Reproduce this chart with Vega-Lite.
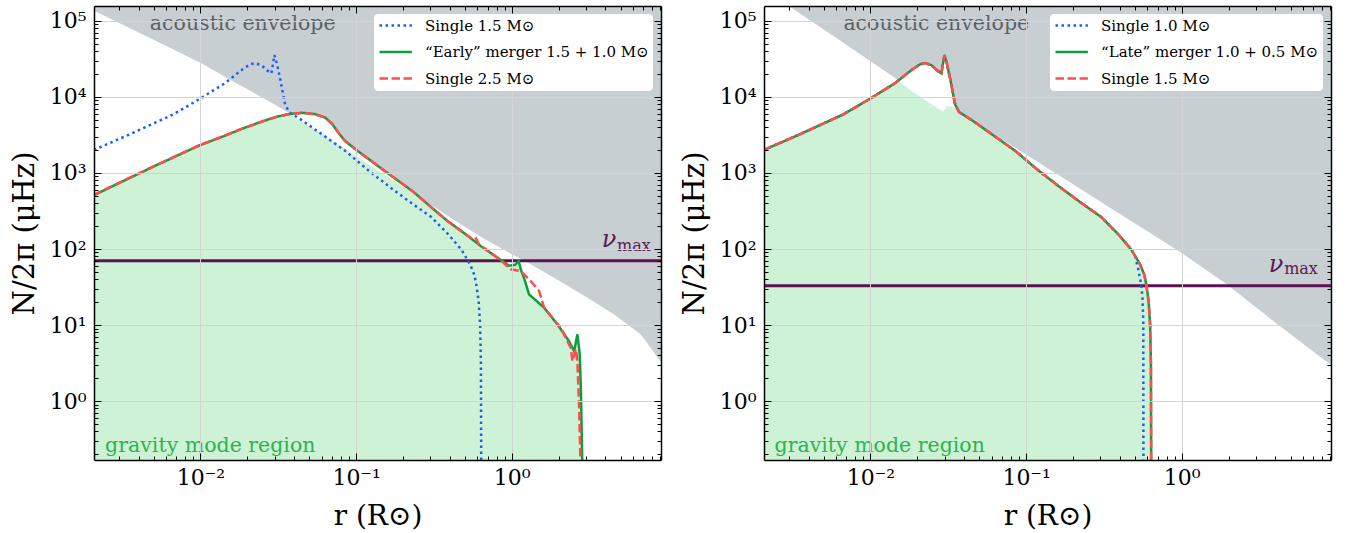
{
  "$schema": "https://vega.github.io/schema/vega-lite/v6.json",
  "background": "white",
  "padding": {"left": 10, "top": 5, "right": 5, "bottom": 5},
  "spacing": 103,
  "bounds": "flush",
  "config": {"view": {"stroke": null}, "font": "DejaVu Serif"},
  "datasets": {
    "left_lines": [
      {"series": "Single 1.5 M⊙", "r": 0.002065, "N": 2009},
      {"series": "Single 1.5 M⊙", "r": 0.003548, "N": 3250},
      {"series": "Single 1.5 M⊙", "r": 0.006699, "N": 5900},
      {"series": "Single 1.5 M⊙", "r": 0.01, "N": 9550},
      {"series": "Single 1.5 M⊙", "r": 0.01436, "N": 15140},
      {"series": "Single 1.5 M⊙", "r": 0.01854, "N": 22910},
      {"series": "Single 1.5 M⊙", "r": 0.02089, "N": 26920},
      {"series": "Single 1.5 M⊙", "r": 0.02244, "N": 27860},
      {"series": "Single 1.5 M⊙", "r": 0.02455, "N": 26300},
      {"series": "Single 1.5 M⊙", "r": 0.02754, "N": 21380},
      {"series": "Single 1.5 M⊙", "r": 0.02858, "N": 20420},
      {"series": "Single 1.5 M⊙", "r": 0.02985, "N": 35480},
      {"series": "Single 1.5 M⊙", "r": 0.0309, "N": 28180},
      {"series": "Single 1.5 M⊙", "r": 0.03243, "N": 17780},
      {"series": "Single 1.5 M⊙", "r": 0.035, "N": 7943},
      {"series": "Single 1.5 M⊙", "r": 0.03715, "N": 6310},
      {"series": "Single 1.5 M⊙", "r": 0.04519, "N": 4898},
      {"series": "Single 1.5 M⊙", "r": 0.06209, "N": 3090},
      {"series": "Single 1.5 M⊙", "r": 0.08531, "N": 1950},
      {"series": "Single 1.5 M⊙", "r": 0.1172, "N": 1122},
      {"series": "Single 1.5 M⊙", "r": 0.161, "N": 676},
      {"series": "Single 1.5 M⊙", "r": 0.2213, "N": 417},
      {"series": "Single 1.5 M⊙", "r": 0.3041, "N": 263},
      {"series": "Single 1.5 M⊙", "r": 0.3926, "N": 155},
      {"series": "Single 1.5 M⊙", "r": 0.4753, "N": 97.7},
      {"series": "Single 1.5 M⊙", "r": 0.5012, "N": 81.3},
      {"series": "Single 1.5 M⊙", "r": 0.5395, "N": 63.1},
      {"series": "Single 1.5 M⊙", "r": 0.5754, "N": 45.7},
      {"series": "Single 1.5 M⊙", "r": 0.5929, "N": 33.1},
      {"series": "Single 1.5 M⊙", "r": 0.6124, "N": 20.9},
      {"series": "Single 1.5 M⊙", "r": 0.6266, "N": 10},
      {"series": "Single 1.5 M⊙", "r": 0.6339, "N": 3.16},
      {"series": "Single 1.5 M⊙", "r": 0.6368, "N": 0.1},
      {"series": "“Early” merger 1.5 + 1.0 M⊙", "r": 0.00205, "N": 505},
      {"series": "“Early” merger 1.5 + 1.0 M⊙", "r": 0.00316, "N": 776},
      {"series": "“Early” merger 1.5 + 1.0 M⊙", "r": 0.00489, "N": 1190},
      {"series": "“Early” merger 1.5 + 1.0 M⊙", "r": 0.00708, "N": 1690},
      {"series": "“Early” merger 1.5 + 1.0 M⊙", "r": 0.00982, "N": 2300},
      {"series": "“Early” merger 1.5 + 1.0 M⊙", "r": 0.01413, "N": 3050},
      {"series": "“Early” merger 1.5 + 1.0 M⊙", "r": 0.01849, "N": 3811},
      {"series": "“Early” merger 1.5 + 1.0 M⊙", "r": 0.02512, "N": 4786},
      {"series": "“Early” merger 1.5 + 1.0 M⊙", "r": 0.03069, "N": 5470},
      {"series": "“Early” merger 1.5 + 1.0 M⊙", "r": 0.03715, "N": 5957},
      {"series": "“Early” merger 1.5 + 1.0 M⊙", "r": 0.04487, "N": 6180},
      {"series": "“Early” merger 1.5 + 1.0 M⊙", "r": 0.05433, "N": 5943},
      {"series": "“Early” merger 1.5 + 1.0 M⊙", "r": 0.0631, "N": 5370},
      {"series": "“Early” merger 1.5 + 1.0 M⊙", "r": 0.07, "N": 4446},
      {"series": "“Early” merger 1.5 + 1.0 M⊙", "r": 0.0776, "N": 3311},
      {"series": "“Early” merger 1.5 + 1.0 M⊙", "r": 0.08453, "N": 2655},
      {"series": "“Early” merger 1.5 + 1.0 M⊙", "r": 0.1023, "N": 1950},
      {"series": "“Early” merger 1.5 + 1.0 M⊙", "r": 0.1592, "N": 998},
      {"series": "“Early” merger 1.5 + 1.0 M⊙", "r": 0.2328, "N": 566},
      {"series": "“Early” merger 1.5 + 1.0 M⊙", "r": 0.3162, "N": 331},
      {"series": "“Early” merger 1.5 + 1.0 M⊙", "r": 0.3864, "N": 234},
      {"series": "“Early” merger 1.5 + 1.0 M⊙", "r": 0.501, "N": 158.5},
      {"series": "“Early” merger 1.5 + 1.0 M⊙", "r": 0.6324, "N": 109.4},
      {"series": "“Early” merger 1.5 + 1.0 M⊙", "r": 0.809, "N": 76.9},
      {"series": "“Early” merger 1.5 + 1.0 M⊙", "r": 0.9616, "N": 60.3},
      {"series": "“Early” merger 1.5 + 1.0 M⊙", "r": 1.047, "N": 61.7},
      {"series": "“Early” merger 1.5 + 1.0 M⊙", "r": 1.109, "N": 69.2},
      {"series": "“Early” merger 1.5 + 1.0 M⊙", "r": 1.148, "N": 52.5},
      {"series": "“Early” merger 1.5 + 1.0 M⊙", "r": 1.199, "N": 41.7},
      {"series": "“Early” merger 1.5 + 1.0 M⊙", "r": 1.291, "N": 25.4},
      {"series": "“Early” merger 1.5 + 1.0 M⊙", "r": 1.614, "N": 16.9},
      {"series": "“Early” merger 1.5 + 1.0 M⊙", "r": 1.968, "N": 10.2},
      {"series": "“Early” merger 1.5 + 1.0 M⊙", "r": 2.333, "N": 6.15},
      {"series": "“Early” merger 1.5 + 1.0 M⊙", "r": 2.518, "N": 4.55},
      {"series": "“Early” merger 1.5 + 1.0 M⊙", "r": 2.642, "N": 7.55},
      {"series": "“Early” merger 1.5 + 1.0 M⊙", "r": 2.735, "N": 4.11},
      {"series": "“Early” merger 1.5 + 1.0 M⊙", "r": 2.78, "N": 1.5},
      {"series": "“Early” merger 1.5 + 1.0 M⊙", "r": 2.851, "N": 0.1},
      {"series": "Single 2.5 M⊙", "r": 0.00205, "N": 515},
      {"series": "Single 2.5 M⊙", "r": 0.00316, "N": 780},
      {"series": "Single 2.5 M⊙", "r": 0.00489, "N": 1195},
      {"series": "Single 2.5 M⊙", "r": 0.00708, "N": 1700},
      {"series": "Single 2.5 M⊙", "r": 0.00982, "N": 2310},
      {"series": "Single 2.5 M⊙", "r": 0.01413, "N": 3060},
      {"series": "Single 2.5 M⊙", "r": 0.01849, "N": 3820},
      {"series": "Single 2.5 M⊙", "r": 0.02512, "N": 4790},
      {"series": "Single 2.5 M⊙", "r": 0.03069, "N": 5470},
      {"series": "Single 2.5 M⊙", "r": 0.03715, "N": 5957},
      {"series": "Single 2.5 M⊙", "r": 0.04487, "N": 6180},
      {"series": "Single 2.5 M⊙", "r": 0.05433, "N": 5943},
      {"series": "Single 2.5 M⊙", "r": 0.0631, "N": 5370},
      {"series": "Single 2.5 M⊙", "r": 0.07, "N": 4446},
      {"series": "Single 2.5 M⊙", "r": 0.0776, "N": 3311},
      {"series": "Single 2.5 M⊙", "r": 0.08453, "N": 2655},
      {"series": "Single 2.5 M⊙", "r": 0.1023, "N": 1950},
      {"series": "Single 2.5 M⊙", "r": 0.1592, "N": 998},
      {"series": "Single 2.5 M⊙", "r": 0.2328, "N": 566},
      {"series": "Single 2.5 M⊙", "r": 0.3162, "N": 331},
      {"series": "Single 2.5 M⊙", "r": 0.3864, "N": 234},
      {"series": "Single 2.5 M⊙", "r": 0.501, "N": 158.5},
      {"series": "Single 2.5 M⊙", "r": 0.5495, "N": 138},
      {"series": "Single 2.5 M⊙", "r": 0.5821, "N": 144.5},
      {"series": "Single 2.5 M⊙", "r": 0.6166, "N": 114.8},
      {"series": "Single 2.5 M⊙", "r": 0.809, "N": 77.6},
      {"series": "Single 2.5 M⊙", "r": 0.9863, "N": 54.1},
      {"series": "Single 2.5 M⊙", "r": 1.143, "N": 51.4},
      {"series": "Single 2.5 M⊙", "r": 1.324, "N": 37.9},
      {"series": "Single 2.5 M⊙", "r": 1.5, "N": 28.0},
      {"series": "Single 2.5 M⊙", "r": 1.614, "N": 16.9},
      {"series": "Single 2.5 M⊙", "r": 2.065, "N": 9.2},
      {"series": "Single 2.5 M⊙", "r": 2.393, "N": 5.02},
      {"series": "Single 2.5 M⊙", "r": 2.455, "N": 3.36},
      {"series": "Single 2.5 M⊙", "r": 2.582, "N": 4.79},
      {"series": "Single 2.5 M⊙", "r": 2.642, "N": 3.36},
      {"series": "Single 2.5 M⊙", "r": 2.71, "N": 0.817},
      {"series": "Single 2.5 M⊙", "r": 2.78, "N": 0.1}
    ],
    "left_gray": [
      {"r": 0.00205, "N": 137000}, {"r": 0.00398, "N": 70800}, {"r": 0.00631, "N": 44700},
      {"r": 0.01, "N": 28250}, {"r": 0.0152, "N": 17180}, {"r": 0.02512, "N": 9772},
      {"r": 0.03698, "N": 6209}, {"r": 0.04487, "N": 6180}, {"r": 0.05433, "N": 5943},
      {"r": 0.0631, "N": 5370}, {"r": 0.07, "N": 4446}, {"r": 0.0776, "N": 3311},
      {"r": 0.08453, "N": 2655}, {"r": 0.1023, "N": 1950}, {"r": 0.1592, "N": 998},
      {"r": 0.2328, "N": 566}, {"r": 0.2512, "N": 490}, {"r": 0.398, "N": 263},
      {"r": 0.631, "N": 144.5}, {"r": 1.0, "N": 85.1}, {"r": 1.2, "N": 70.8},
      {"r": 1.871, "N": 41.9}, {"r": 3.069, "N": 22.9}, {"r": 4.55, "N": 13.8},
      {"r": 6.76, "N": 7.53}, {"r": 9.18, "N": 3.16}
    ],
    "left_fill": [
      {"r": 0.00205, "N": 505}, {"r": 0.00316, "N": 776}, {"r": 0.00489, "N": 1190},
      {"r": 0.00708, "N": 1690}, {"r": 0.00982, "N": 2300}, {"r": 0.01413, "N": 3050},
      {"r": 0.01849, "N": 3811}, {"r": 0.02512, "N": 4786}, {"r": 0.03069, "N": 5470},
      {"r": 0.03715, "N": 5957}, {"r": 0.0631, "N": 3090}, {"r": 0.1, "N": 1660},
      {"r": 0.1585, "N": 902}, {"r": 0.2328, "N": 543}, {"r": 0.2512, "N": 495},
      {"r": 0.3162, "N": 331}, {"r": 0.3864, "N": 234}, {"r": 0.501, "N": 158.5},
      {"r": 0.6324, "N": 109.4}, {"r": 0.809, "N": 76.9}, {"r": 0.9616, "N": 60.3},
      {"r": 1.047, "N": 61.7}, {"r": 1.109, "N": 69.2}, {"r": 1.148, "N": 52.5},
      {"r": 1.199, "N": 41.7}, {"r": 1.291, "N": 25.4}, {"r": 1.614, "N": 16.9},
      {"r": 1.968, "N": 10.2}, {"r": 2.333, "N": 6.15}, {"r": 2.518, "N": 4.55},
      {"r": 2.642, "N": 7.55}, {"r": 2.735, "N": 4.11}, {"r": 2.78, "N": 1.5},
      {"r": 2.851, "N": 0.1}
    ],
    "right_lines": [
      {"series": "Single 1.0 M⊙", "r": 0.002065, "N": 2009},
      {"series": "Single 1.0 M⊙", "r": 0.003548, "N": 3250},
      {"series": "Single 1.0 M⊙", "r": 0.006699, "N": 5900},
      {"series": "Single 1.0 M⊙", "r": 0.01, "N": 9550},
      {"series": "Single 1.0 M⊙", "r": 0.01436, "N": 15140},
      {"series": "Single 1.0 M⊙", "r": 0.01854, "N": 22910},
      {"series": "Single 1.0 M⊙", "r": 0.02089, "N": 26920},
      {"series": "Single 1.0 M⊙", "r": 0.02244, "N": 27860},
      {"series": "Single 1.0 M⊙", "r": 0.02455, "N": 26300},
      {"series": "Single 1.0 M⊙", "r": 0.02754, "N": 21380},
      {"series": "Single 1.0 M⊙", "r": 0.02858, "N": 20420},
      {"series": "Single 1.0 M⊙", "r": 0.02985, "N": 35480},
      {"series": "Single 1.0 M⊙", "r": 0.0309, "N": 28180},
      {"series": "Single 1.0 M⊙", "r": 0.03243, "N": 17780},
      {"series": "Single 1.0 M⊙", "r": 0.035, "N": 7943},
      {"series": "Single 1.0 M⊙", "r": 0.03715, "N": 6310},
      {"series": "Single 1.0 M⊙", "r": 0.04519, "N": 4898},
      {"series": "Single 1.0 M⊙", "r": 0.06209, "N": 3090},
      {"series": "Single 1.0 M⊙", "r": 0.08531, "N": 1950},
      {"series": "Single 1.0 M⊙", "r": 0.1172, "N": 1122},
      {"series": "Single 1.0 M⊙", "r": 0.161, "N": 676},
      {"series": "Single 1.0 M⊙", "r": 0.2213, "N": 417},
      {"series": "Single 1.0 M⊙", "r": 0.3041, "N": 263},
      {"series": "Single 1.0 M⊙", "r": 0.3926, "N": 155},
      {"series": "Single 1.0 M⊙", "r": 0.4753, "N": 97.7},
      {"series": "Single 1.0 M⊙", "r": 0.5012, "N": 81.3},
      {"series": "Single 1.0 M⊙", "r": 0.5248, "N": 55.0},
      {"series": "Single 1.0 M⊙", "r": 0.547, "N": 35.5},
      {"series": "Single 1.0 M⊙", "r": 0.5598, "N": 22.4},
      {"series": "Single 1.0 M⊙", "r": 0.5662, "N": 11.2},
      {"series": "Single 1.0 M⊙", "r": 0.5675, "N": 0.1},
      {"series": "“Late” merger 1.0 + 0.5 M⊙", "r": 0.002065, "N": 2009},
      {"series": "“Late” merger 1.0 + 0.5 M⊙", "r": 0.003548, "N": 3250},
      {"series": "“Late” merger 1.0 + 0.5 M⊙", "r": 0.006699, "N": 5900},
      {"series": "“Late” merger 1.0 + 0.5 M⊙", "r": 0.01, "N": 9550},
      {"series": "“Late” merger 1.0 + 0.5 M⊙", "r": 0.01436, "N": 15140},
      {"series": "“Late” merger 1.0 + 0.5 M⊙", "r": 0.01854, "N": 22910},
      {"series": "“Late” merger 1.0 + 0.5 M⊙", "r": 0.02089, "N": 26920},
      {"series": "“Late” merger 1.0 + 0.5 M⊙", "r": 0.02244, "N": 27860},
      {"series": "“Late” merger 1.0 + 0.5 M⊙", "r": 0.02455, "N": 26300},
      {"series": "“Late” merger 1.0 + 0.5 M⊙", "r": 0.02754, "N": 21380},
      {"series": "“Late” merger 1.0 + 0.5 M⊙", "r": 0.02858, "N": 20420},
      {"series": "“Late” merger 1.0 + 0.5 M⊙", "r": 0.02985, "N": 35480},
      {"series": "“Late” merger 1.0 + 0.5 M⊙", "r": 0.0309, "N": 28180},
      {"series": "“Late” merger 1.0 + 0.5 M⊙", "r": 0.03243, "N": 17780},
      {"series": "“Late” merger 1.0 + 0.5 M⊙", "r": 0.035, "N": 7943},
      {"series": "“Late” merger 1.0 + 0.5 M⊙", "r": 0.03715, "N": 6310},
      {"series": "“Late” merger 1.0 + 0.5 M⊙", "r": 0.04519, "N": 4898},
      {"series": "“Late” merger 1.0 + 0.5 M⊙", "r": 0.06209, "N": 3090},
      {"series": "“Late” merger 1.0 + 0.5 M⊙", "r": 0.08531, "N": 1950},
      {"series": "“Late” merger 1.0 + 0.5 M⊙", "r": 0.1172, "N": 1122},
      {"series": "“Late” merger 1.0 + 0.5 M⊙", "r": 0.161, "N": 676},
      {"series": "“Late” merger 1.0 + 0.5 M⊙", "r": 0.2213, "N": 417},
      {"series": "“Late” merger 1.0 + 0.5 M⊙", "r": 0.3041, "N": 263},
      {"series": "“Late” merger 1.0 + 0.5 M⊙", "r": 0.3926, "N": 155},
      {"series": "“Late” merger 1.0 + 0.5 M⊙", "r": 0.4753, "N": 97.7},
      {"series": "“Late” merger 1.0 + 0.5 M⊙", "r": 0.5012, "N": 81.3},
      {"series": "“Late” merger 1.0 + 0.5 M⊙", "r": 0.5395, "N": 63.1},
      {"series": "“Late” merger 1.0 + 0.5 M⊙", "r": 0.5754, "N": 45.7},
      {"series": "“Late” merger 1.0 + 0.5 M⊙", "r": 0.5929, "N": 33.1},
      {"series": "“Late” merger 1.0 + 0.5 M⊙", "r": 0.6124, "N": 20.9},
      {"series": "“Late” merger 1.0 + 0.5 M⊙", "r": 0.6266, "N": 10},
      {"series": "“Late” merger 1.0 + 0.5 M⊙", "r": 0.6339, "N": 3.16},
      {"series": "“Late” merger 1.0 + 0.5 M⊙", "r": 0.6368, "N": 0.1},
      {"series": "Single 1.5 M⊙", "r": 0.002065, "N": 2009},
      {"series": "Single 1.5 M⊙", "r": 0.003548, "N": 3250},
      {"series": "Single 1.5 M⊙", "r": 0.006699, "N": 5900},
      {"series": "Single 1.5 M⊙", "r": 0.01, "N": 9550},
      {"series": "Single 1.5 M⊙", "r": 0.01436, "N": 15140},
      {"series": "Single 1.5 M⊙", "r": 0.01854, "N": 22910},
      {"series": "Single 1.5 M⊙", "r": 0.02089, "N": 26920},
      {"series": "Single 1.5 M⊙", "r": 0.02244, "N": 27860},
      {"series": "Single 1.5 M⊙", "r": 0.02455, "N": 26300},
      {"series": "Single 1.5 M⊙", "r": 0.02754, "N": 21380},
      {"series": "Single 1.5 M⊙", "r": 0.02858, "N": 20420},
      {"series": "Single 1.5 M⊙", "r": 0.02985, "N": 35480},
      {"series": "Single 1.5 M⊙", "r": 0.0309, "N": 28180},
      {"series": "Single 1.5 M⊙", "r": 0.03243, "N": 17780},
      {"series": "Single 1.5 M⊙", "r": 0.035, "N": 7943},
      {"series": "Single 1.5 M⊙", "r": 0.03715, "N": 6310},
      {"series": "Single 1.5 M⊙", "r": 0.04519, "N": 4898},
      {"series": "Single 1.5 M⊙", "r": 0.06209, "N": 3090},
      {"series": "Single 1.5 M⊙", "r": 0.08531, "N": 1950},
      {"series": "Single 1.5 M⊙", "r": 0.1172, "N": 1122},
      {"series": "Single 1.5 M⊙", "r": 0.161, "N": 676},
      {"series": "Single 1.5 M⊙", "r": 0.2213, "N": 417},
      {"series": "Single 1.5 M⊙", "r": 0.3041, "N": 263},
      {"series": "Single 1.5 M⊙", "r": 0.3926, "N": 155},
      {"series": "Single 1.5 M⊙", "r": 0.4753, "N": 97.7},
      {"series": "Single 1.5 M⊙", "r": 0.5012, "N": 81.3},
      {"series": "Single 1.5 M⊙", "r": 0.5395, "N": 63.1},
      {"series": "Single 1.5 M⊙", "r": 0.5754, "N": 45.7},
      {"series": "Single 1.5 M⊙", "r": 0.5929, "N": 33.1},
      {"series": "Single 1.5 M⊙", "r": 0.6124, "N": 20.9},
      {"series": "Single 1.5 M⊙", "r": 0.6266, "N": 10},
      {"series": "Single 1.5 M⊙", "r": 0.6339, "N": 3.16},
      {"series": "Single 1.5 M⊙", "r": 0.6368, "N": 0.1}
    ],
    "right_gray": [
      {"r": 0.00205, "N": 280000}, {"r": 0.003119, "N": 147900}, {"r": 0.00631, "N": 56230},
      {"r": 0.01, "N": 29510}, {"r": 0.01514, "N": 16600}, {"r": 0.01854, "N": 22910},
      {"r": 0.02089, "N": 26920}, {"r": 0.02244, "N": 27860}, {"r": 0.02455, "N": 26300},
      {"r": 0.02754, "N": 21380}, {"r": 0.02858, "N": 20420}, {"r": 0.02985, "N": 35480},
      {"r": 0.0309, "N": 28180}, {"r": 0.03243, "N": 17780}, {"r": 0.035, "N": 7943},
      {"r": 0.03715, "N": 6310}, {"r": 0.0631, "N": 3162}, {"r": 0.1, "N": 1750},
      {"r": 0.1585, "N": 964}, {"r": 0.2512, "N": 531}, {"r": 0.3981, "N": 292},
      {"r": 0.631, "N": 161}, {"r": 1.0, "N": 88.5}, {"r": 1.928, "N": 35.0},
      {"r": 3.873, "N": 11.3}, {"r": 6.31, "N": 5.25}, {"r": 9.18, "N": 2.95}
    ],
    "right_fill": [
      {"r": 0.00205, "N": 2000}, {"r": 0.003548, "N": 3250}, {"r": 0.006699, "N": 5900},
      {"r": 0.01, "N": 9550}, {"r": 0.01436, "N": 15140}, {"r": 0.01514, "N": 16300},
      {"r": 0.01854, "N": 11750}, {"r": 0.02244, "N": 9120}, {"r": 0.02716, "N": 7079},
      {"r": 0.02931, "N": 6383}, {"r": 0.03083, "N": 7603}, {"r": 0.03388, "N": 7447},
      {"r": 0.03715, "N": 6166}, {"r": 0.04519, "N": 4898}, {"r": 0.06209, "N": 3090},
      {"r": 0.08531, "N": 1950}, {"r": 0.1172, "N": 1122}, {"r": 0.161, "N": 676},
      {"r": 0.2213, "N": 417}, {"r": 0.3041, "N": 263}, {"r": 0.3926, "N": 155},
      {"r": 0.4753, "N": 97.7}, {"r": 0.5012, "N": 81.3}, {"r": 0.5395, "N": 63.1},
      {"r": 0.5754, "N": 45.7}, {"r": 0.5929, "N": 33.1}, {"r": 0.6124, "N": 20.9},
      {"r": 0.6266, "N": 10}, {"r": 0.6339, "N": 3.16}, {"r": 0.6368, "N": 0.1}
    ]
  },
  "resolve": {"scale": {"color": "independent", "strokeDash": "independent"}, "legend": {"color": "independent", "strokeDash": "independent"}},
  "hconcat": [
    {
      "width": 567,
      "height": 454,
      "resolve": {"axis": {"x": "independent", "y": "independent"}},
      "layer": [
        {
          "data": {"name": "left_gray"},
          "mark": {"type": "area", "color": "#c8cfd2", "clip": true},
          "encoding": {
            "x": {"field": "r", "type": "quantitative", "scale": {"type": "log", "domain": [0.00207, 9.1], "nice": false},
              "axis": {"orient": "top", "values": [0.003,0.004,0.005,0.006,0.007,0.008,0.009,0.01,0.02,0.03,0.04,0.05,0.06,0.07,0.08,0.09,0.1,0.2,0.3,0.4,0.5,0.6,0.7,0.8,0.9,1,2,3,4,5,6,7,8,9],
                "labels": false, "grid": false, "title": null, "tickColor": "black", "tickWidth": 1,
                "tickSize": {"condition": {"test": "indexof([0.01,0.1,1], datum.value) >= 0", "value": -7}, "value": -4},
                "domainColor": "black", "domainWidth": 1.5, "zindex": 1}},
            "y": {"field": "N", "type": "quantitative", "scale": {"type": "log", "domain": [0.168, 157000], "nice": false},
              "axis": {"orient": "right", "values": [0.2,0.3,0.4,0.5,0.6,0.7,0.8,0.9,1,2,3,4,5,6,7,8,9,10,20,30,40,50,60,70,80,90,100,200,300,400,500,600,700,800,900,1000,2000,3000,4000,5000,6000,7000,8000,9000,10000,20000,30000,40000,50000,60000,70000,80000,90000,100000],
                "labels": false, "grid": false, "title": null, "tickColor": "black", "tickWidth": 1,
                "tickSize": {"condition": {"test": "indexof([1,10,100,1000,10000,100000], datum.value) >= 0", "value": -7}, "value": -4},
                "domainColor": "black", "domainWidth": 1.5, "zindex": 1}},
            "y2": {"datum": 1000000}
          }
        },
        {
          "data": {"name": "left_fill"},
          "mark": {"type": "area", "color": "#cdf2d5", "clip": true},
          "encoding": {
            "x": {"field": "r", "type": "quantitative", "scale": {"type": "log", "domain": [0.00207, 9.1], "nice": false}, "axis": null},
            "y": {"field": "N", "type": "quantitative", "scale": {"type": "log", "domain": [0.168, 157000], "nice": false}, "axis": null},
            "y2": {"datum": 0.01}
          }
        },
        {
          "data": {"values": [{}]},
          "mark": {"type": "rule", "color": "#5c1250", "strokeWidth": 3},
          "encoding": {
            "y": {"datum": 70, "type": "quantitative", "scale": {"type": "log", "domain": [0.168, 157000], "nice": false}, "axis": null}
          }
        },
        {
          "data": {"name": "left_lines"},
          "mark": {"type": "line", "strokeWidth": 2.5, "clip": true},
          "encoding": {
            "x": {"field": "r", "type": "quantitative", "scale": {"type": "log", "domain": [0.00207, 9.1], "nice": false},
              "axis": {"orient": "bottom", "values": [0.003,0.004,0.005,0.006,0.007,0.008,0.009,0.01,0.02,0.03,0.04,0.05,0.06,0.07,0.08,0.09,0.1,0.2,0.3,0.4,0.5,0.6,0.7,0.8,0.9,1,2,3,4,5,6,7,8,9],
                "labelExpr": "datum.value == 0.01 ? '10⁻²' : datum.value == 0.1 ? '10⁻¹' : datum.value == 1 ? '10⁰' : ''",
                "labelOverlap": false, "labelFlush": false, "labelFont": "DejaVu Serif", "labelFontSize": 22, "labelColor": "black", "labelPadding": 14,
                "tickColor": "black", "tickWidth": 1,
                "tickSize": {"condition": {"test": "indexof([0.01,0.1,1], datum.value) >= 0", "value": -7}, "value": -4},
                "grid": true, "gridColor": "#d4d4d4", "gridWidth": 1,
                "gridOpacity": {"condition": {"test": "indexof([0.01,0.1,1], datum.value) >= 0", "value": 1}, "value": 0},
                "domainColor": "black", "domainWidth": 1.5,
                "title": "r (R⊙)", "titleFont": "DejaVu Serif", "titleFontSize": 28, "titleFontWeight": "normal", "titleColor": "black", "titlePadding": 12,
                "minExtent": 30, "maxExtent": 30, "zindex": 1}},
            "y": {"field": "N", "type": "quantitative", "scale": {"type": "log", "domain": [0.168, 157000], "nice": false},
              "axis": {"orient": "left", "values": [0.2,0.3,0.4,0.5,0.6,0.7,0.8,0.9,1,2,3,4,5,6,7,8,9,10,20,30,40,50,60,70,80,90,100,200,300,400,500,600,700,800,900,1000,2000,3000,4000,5000,6000,7000,8000,9000,10000,20000,30000,40000,50000,60000,70000,80000,90000,100000],
                "labelExpr": "datum.value == 1 ? '10⁰' : datum.value == 10 ? '10¹' : datum.value == 100 ? '10²' : datum.value == 1000 ? '10³' : datum.value == 10000 ? '10⁴' : datum.value == 100000 ? '10⁵' : ''",
                "labelOverlap": false, "labelFlush": false, "labelFont": "DejaVu Serif", "labelFontSize": 22, "labelColor": "black", "labelPadding": 15, "labelBaseline": "middle",
                "tickColor": "black", "tickWidth": 1,
                "tickSize": {"condition": {"test": "indexof([1,10,100,1000,10000,100000], datum.value) >= 0", "value": -7}, "value": -4},
                "grid": true, "gridColor": "#d4d4d4", "gridWidth": 1,
                "gridOpacity": {"condition": {"test": "indexof([1,10,100,1000,10000,100000], datum.value) >= 0", "value": 1}, "value": 0},
                "domainColor": "black", "domainWidth": 1.5,
                "title": "N/2π  (μHz)", "titleFont": "DejaVu Serif", "titleFontSize": 29, "titleFontWeight": "normal", "titleColor": "black", "titlePadding": 8,
                "minExtent": 47, "maxExtent": 47, "zindex": 1}},
            "color": {"field": "series", "type": "nominal",
              "scale": {"domain": ["Single 1.5 M⊙", "“Early” merger 1.5 + 1.0 M⊙", "Single 2.5 M⊙"], "range": ["#1a5cff", "#0b9e3c", "#ff4d4d"]},
              "legend": {"orient": "top-right", "offset": 8, "title": null, "fillColor": "white", "cornerRadius": 4, "padding": 4,
                "labelFont": "DejaVu Serif", "labelFontSize": 15, "labelColor": "black", "labelLimit": 400,
                "symbolType": "M-1,0H4.4", "symbolSize": 144, "symbolStrokeWidth": 2.5, "rowPadding": 10.5, "labelOffset": 32, "zindex": 2}},
            "strokeDash": {"field": "series", "type": "nominal",
              "scale": {"domain": ["Single 1.5 M⊙", "“Early” merger 1.5 + 1.0 M⊙", "Single 2.5 M⊙"], "range": [[2.5, 3.5], [1, 0], [8.5, 3.5]]}}
          }
        },
        {
          "data": {"values": [{}]},
          "mark": {"type": "text", "text": "acoustic envelope", "font": "DejaVu Serif", "fontSize": 20.5, "color": "#5a6266", "align": "left", "baseline": "alphabetic"},
          "encoding": {
            "x": {"datum": 0.00473, "type": "quantitative", "scale": {"type": "log", "domain": [0.00207, 9.1], "nice": false}, "axis": null},
            "y": {"datum": 76000, "type": "quantitative", "scale": {"type": "log", "domain": [0.168, 157000], "nice": false}, "axis": null}
          }
        },
        {
          "data": {"values": [{}]},
          "mark": {"type": "text", "text": "gravity mode region", "font": "DejaVu Serif", "fontSize": 20.5, "color": "#2db34f", "align": "left", "baseline": "alphabetic"},
          "encoding": {
            "x": {"datum": 0.00244, "type": "quantitative", "scale": {"type": "log", "domain": [0.00207, 9.1], "nice": false}, "axis": null},
            "y": {"datum": 0.215, "type": "quantitative", "scale": {"type": "log", "domain": [0.168, 157000], "nice": false}, "axis": null}
          }
        },
        {
          "data": {"values": [{}]},
          "mark": {"type": "text", "text": "ν", "font": "DejaVu Serif", "fontSize": 24, "fontStyle": "italic", "color": "#5c1a55", "align": "right", "baseline": "alphabetic"},
          "encoding": {
            "x": {"datum": 4.7, "type": "quantitative", "scale": {"type": "log", "domain": [0.00207, 9.1], "nice": false}, "axis": null},
            "y": {"datum": 107, "type": "quantitative", "scale": {"type": "log", "domain": [0.168, 157000], "nice": false}, "axis": null}
          }
        },
        {
          "data": {"values": [{}]},
          "mark": {"type": "text", "text": "max", "font": "DejaVu Serif", "fontSize": 16, "color": "#5c1a55", "align": "left", "baseline": "alphabetic"},
          "encoding": {
            "x": {"datum": 4.75, "type": "quantitative", "scale": {"type": "log", "domain": [0.00207, 9.1], "nice": false}, "axis": null},
            "y": {"datum": 95, "type": "quantitative", "scale": {"type": "log", "domain": [0.168, 157000], "nice": false}, "axis": null}
          }
        }
      ]
    },
    {
      "width": 567,
      "height": 454,
      "resolve": {"axis": {"x": "independent", "y": "independent"}},
      "layer": [
        {
          "data": {"name": "right_gray"},
          "mark": {"type": "area", "color": "#c8cfd2", "clip": true},
          "encoding": {
            "x": {"field": "r", "type": "quantitative", "scale": {"type": "log", "domain": [0.00207, 9.1], "nice": false},
              "axis": {"orient": "top", "values": [0.003,0.004,0.005,0.006,0.007,0.008,0.009,0.01,0.02,0.03,0.04,0.05,0.06,0.07,0.08,0.09,0.1,0.2,0.3,0.4,0.5,0.6,0.7,0.8,0.9,1,2,3,4,5,6,7,8,9],
                "labels": false, "grid": false, "title": null, "tickColor": "black", "tickWidth": 1,
                "tickSize": {"condition": {"test": "indexof([0.01,0.1,1], datum.value) >= 0", "value": -7}, "value": -4},
                "domainColor": "black", "domainWidth": 1.5, "zindex": 1}},
            "y": {"field": "N", "type": "quantitative", "scale": {"type": "log", "domain": [0.168, 157000], "nice": false},
              "axis": {"orient": "right", "values": [0.2,0.3,0.4,0.5,0.6,0.7,0.8,0.9,1,2,3,4,5,6,7,8,9,10,20,30,40,50,60,70,80,90,100,200,300,400,500,600,700,800,900,1000,2000,3000,4000,5000,6000,7000,8000,9000,10000,20000,30000,40000,50000,60000,70000,80000,90000,100000],
                "labels": false, "grid": false, "title": null, "tickColor": "black", "tickWidth": 1,
                "tickSize": {"condition": {"test": "indexof([1,10,100,1000,10000,100000], datum.value) >= 0", "value": -7}, "value": -4},
                "domainColor": "black", "domainWidth": 1.5, "zindex": 1}},
            "y2": {"datum": 1000000}
          }
        },
        {
          "data": {"name": "right_fill"},
          "mark": {"type": "area", "color": "#cdf2d5", "clip": true},
          "encoding": {
            "x": {"field": "r", "type": "quantitative", "scale": {"type": "log", "domain": [0.00207, 9.1], "nice": false}, "axis": null},
            "y": {"field": "N", "type": "quantitative", "scale": {"type": "log", "domain": [0.168, 157000], "nice": false}, "axis": null},
            "y2": {"datum": 0.01}
          }
        },
        {
          "data": {"values": [{}]},
          "mark": {"type": "rule", "color": "#5c1250", "strokeWidth": 3},
          "encoding": {
            "y": {"datum": 33, "type": "quantitative", "scale": {"type": "log", "domain": [0.168, 157000], "nice": false}, "axis": null}
          }
        },
        {
          "data": {"name": "right_lines"},
          "mark": {"type": "line", "strokeWidth": 2.5, "clip": true},
          "encoding": {
            "x": {"field": "r", "type": "quantitative", "scale": {"type": "log", "domain": [0.00207, 9.1], "nice": false},
              "axis": {"orient": "bottom", "values": [0.003,0.004,0.005,0.006,0.007,0.008,0.009,0.01,0.02,0.03,0.04,0.05,0.06,0.07,0.08,0.09,0.1,0.2,0.3,0.4,0.5,0.6,0.7,0.8,0.9,1,2,3,4,5,6,7,8,9],
                "labelExpr": "datum.value == 0.01 ? '10⁻²' : datum.value == 0.1 ? '10⁻¹' : datum.value == 1 ? '10⁰' : ''",
                "labelOverlap": false, "labelFlush": false, "labelFont": "DejaVu Serif", "labelFontSize": 22, "labelColor": "black", "labelPadding": 14,
                "tickColor": "black", "tickWidth": 1,
                "tickSize": {"condition": {"test": "indexof([0.01,0.1,1], datum.value) >= 0", "value": -7}, "value": -4},
                "grid": true, "gridColor": "#d4d4d4", "gridWidth": 1,
                "gridOpacity": {"condition": {"test": "indexof([0.01,0.1,1], datum.value) >= 0", "value": 1}, "value": 0},
                "domainColor": "black", "domainWidth": 1.5,
                "title": "r (R⊙)", "titleFont": "DejaVu Serif", "titleFontSize": 28, "titleFontWeight": "normal", "titleColor": "black", "titlePadding": 12,
                "minExtent": 30, "maxExtent": 30, "zindex": 1}},
            "y": {"field": "N", "type": "quantitative", "scale": {"type": "log", "domain": [0.168, 157000], "nice": false},
              "axis": {"orient": "left", "values": [0.2,0.3,0.4,0.5,0.6,0.7,0.8,0.9,1,2,3,4,5,6,7,8,9,10,20,30,40,50,60,70,80,90,100,200,300,400,500,600,700,800,900,1000,2000,3000,4000,5000,6000,7000,8000,9000,10000,20000,30000,40000,50000,60000,70000,80000,90000,100000],
                "labelExpr": "datum.value == 1 ? '10⁰' : datum.value == 10 ? '10¹' : datum.value == 100 ? '10²' : datum.value == 1000 ? '10³' : datum.value == 10000 ? '10⁴' : datum.value == 100000 ? '10⁵' : ''",
                "labelOverlap": false, "labelFlush": false, "labelFont": "DejaVu Serif", "labelFontSize": 22, "labelColor": "black", "labelPadding": 15, "labelBaseline": "middle",
                "tickColor": "black", "tickWidth": 1,
                "tickSize": {"condition": {"test": "indexof([1,10,100,1000,10000,100000], datum.value) >= 0", "value": -7}, "value": -4},
                "grid": true, "gridColor": "#d4d4d4", "gridWidth": 1,
                "gridOpacity": {"condition": {"test": "indexof([1,10,100,1000,10000,100000], datum.value) >= 0", "value": 1}, "value": 0},
                "domainColor": "black", "domainWidth": 1.5,
                "title": "N/2π  (μHz)", "titleFont": "DejaVu Serif", "titleFontSize": 29, "titleFontWeight": "normal", "titleColor": "black", "titlePadding": 8,
                "minExtent": 47, "maxExtent": 47, "zindex": 1}},
            "color": {"field": "series", "type": "nominal",
              "scale": {"domain": ["Single 1.0 M⊙", "“Late” merger 1.0 + 0.5 M⊙", "Single 1.5 M⊙"], "range": ["#1a5cff", "#0b9e3c", "#ff4d4d"]},
              "legend": {"orient": "top-right", "offset": 8, "title": null, "fillColor": "white", "cornerRadius": 4, "padding": 4,
                "labelFont": "DejaVu Serif", "labelFontSize": 15, "labelColor": "black", "labelLimit": 400,
                "symbolType": "M-1,0H4.4", "symbolSize": 144, "symbolStrokeWidth": 2.5, "rowPadding": 10.5, "labelOffset": 32, "zindex": 2}},
            "strokeDash": {"field": "series", "type": "nominal",
              "scale": {"domain": ["Single 1.0 M⊙", "“Late” merger 1.0 + 0.5 M⊙", "Single 1.5 M⊙"], "range": [[2.5, 3.5], [1, 0], [8.5, 3.5]]}}
          }
        },
        {
          "data": {"values": [{}]},
          "mark": {"type": "text", "text": "acoustic envelope", "font": "DejaVu Serif", "fontSize": 20.5, "color": "#5a6266", "align": "left", "baseline": "alphabetic"},
          "encoding": {
            "x": {"datum": 0.0067, "type": "quantitative", "scale": {"type": "log", "domain": [0.00207, 9.1], "nice": false}, "axis": null},
            "y": {"datum": 76000, "type": "quantitative", "scale": {"type": "log", "domain": [0.168, 157000], "nice": false}, "axis": null}
          }
        },
        {
          "data": {"values": [{}]},
          "mark": {"type": "text", "text": "gravity mode region", "font": "DejaVu Serif", "fontSize": 20.5, "color": "#2db34f", "align": "left", "baseline": "alphabetic"},
          "encoding": {
            "x": {"datum": 0.00242, "type": "quantitative", "scale": {"type": "log", "domain": [0.00207, 9.1], "nice": false}, "axis": null},
            "y": {"datum": 0.215, "type": "quantitative", "scale": {"type": "log", "domain": [0.168, 157000], "nice": false}, "axis": null}
          }
        },
        {
          "data": {"values": [{}]},
          "mark": {"type": "text", "text": "ν", "font": "DejaVu Serif", "fontSize": 24, "fontStyle": "italic", "color": "#5c1a55", "align": "right", "baseline": "alphabetic"},
          "encoding": {
            "x": {"datum": 4.5, "type": "quantitative", "scale": {"type": "log", "domain": [0.00207, 9.1], "nice": false}, "axis": null},
            "y": {"datum": 50, "type": "quantitative", "scale": {"type": "log", "domain": [0.168, 157000], "nice": false}, "axis": null}
          }
        },
        {
          "data": {"values": [{}]},
          "mark": {"type": "text", "text": "max", "font": "DejaVu Serif", "fontSize": 16, "color": "#5c1a55", "align": "left", "baseline": "alphabetic"},
          "encoding": {
            "x": {"datum": 4.55, "type": "quantitative", "scale": {"type": "log", "domain": [0.00207, 9.1], "nice": false}, "axis": null},
            "y": {"datum": 46.3, "type": "quantitative", "scale": {"type": "log", "domain": [0.168, 157000], "nice": false}, "axis": null}
          }
        }
      ]
    }
  ]
}
